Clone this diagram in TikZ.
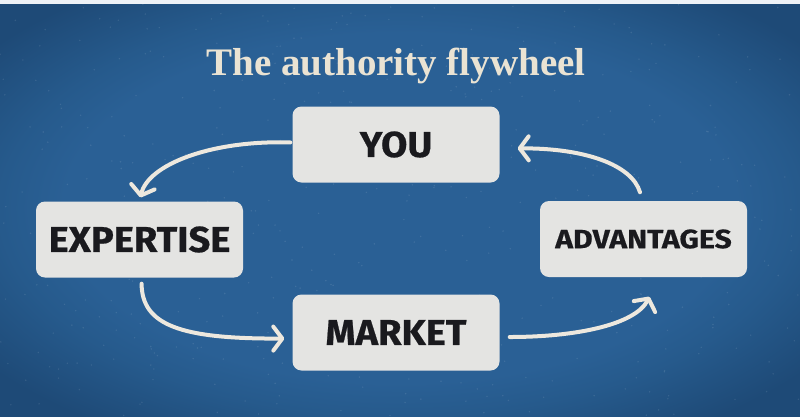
\documentclass[tikz,border=0pt]{standalone}
\usepackage{fontspec}
\setmainfont{Liberation Serif}
\newfontfamily\boxfont[FakeStretch=1.06,FakeBold=0.6]{Fira Sans}
\newfontfamily\advfont[FakeStretch=1.14,FakeBold=0.5]{Fira Sans}
\usetikzlibrary{arrows.meta,calc}
\definecolor{bgblue}{HTML}{2A6095}
\definecolor{bgmid}{HTML}{265A8C}
\definecolor{bgedge}{HTML}{1E4A77}
\definecolor{boxfill}{HTML}{E4E4E2}
\definecolor{boxtext}{HTML}{1A1A1E}
\definecolor{cream}{HTML}{EAE3D3}
\definecolor{arrowcol}{HTML}{EDE8DE}
\pgfdeclareradialshading{vignette}{\pgfpoint{0bp}{0bp}}{color(0bp)=(bgblue); color(21bp)=(bgblue); color(25bp)=(bgmid); color(32bp)=(bgedge); color(50bp)=(bgedge)}
\tikzset{
  stagebox/.style={draw=none, fill=boxfill, rounded corners=9pt, minimum width=207pt, minimum height=76pt,
    inner sep=0pt, text=boxtext, font=\boxfont\bfseries\fontsize{36}{36}\selectfont},
  flow/.style={draw=arrowcol, line width=4pt, line cap=round,
    -{Straight Barb[length=9pt,width=24pt,line width=4pt,round]}},
  speck/.style={fill=white, opacity=0.10},
}
\begin{document}
\begin{tikzpicture}[x=1pt,y=-1pt]
\useasboundingbox (0,0) rectangle (800,416);
\shade[shading=vignette] (0,0) rectangle (800,416);
\pgfmathsetseed{7}
\foreach \i in {1,...,500}{
  \pgfmathsetmacro{\px}{rnd*800}
  \pgfmathsetmacro{\py}{rnd*416}
  \fill[speck] (\px,\py) circle (0.8pt);
}
\fill[white!92!bgblue] (0,0) rectangle (800,4);
\node[text=cream, anchor=base, font=\bfseries\fontsize{39}{39}\selectfont] (title) at (396,75) {The authority flywheel};
\node[stagebox] (you) at (396,144.5) {YOU};
\node[stagebox] (exp) at (139.5,239.5) {EXPERTISE};
\node[stagebox, font=\advfont\bfseries\fontsize{26.5}{26.5}\selectfont] (adv) at (643.5,239) {ADVANTAGES};
\node[stagebox] (mkt) at (396,332.5) {MARKET};
\draw[flow, shorten <=2pt, shorten >=4pt] ($(you.west)+(0,-2)$) .. controls (210,140) and (148,165) .. (exp.north);
\draw[flow, shorten <=6pt, shorten >=8pt] ($(exp.south)+(2,0)$) .. controls (142,325) and (180,339) .. ($(mkt.west)+(0,6)$);
\draw[flow, shorten <=10pt, shorten >=22pt] ($(mkt.east)+(0,4.5)$) .. controls (575,337) and (635,325) .. ($(adv.south)+(16,0)$);
\draw[flow, shorten <=9pt, shorten >=18pt] ($(adv.north)+(-1,0)$) .. controls (632,165) and (585,148) .. ($(you.east)+(0,4)$);
\end{tikzpicture}
\end{document}
